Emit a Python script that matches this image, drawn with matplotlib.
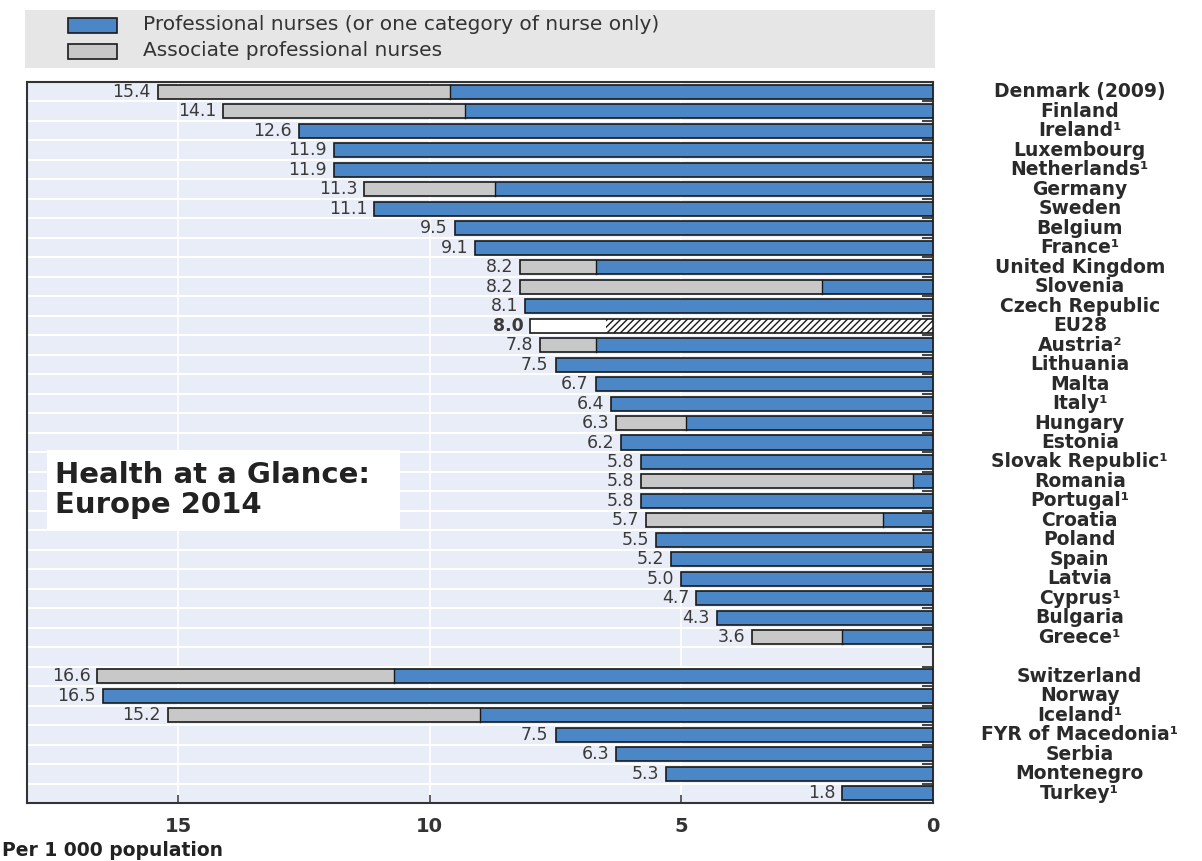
import matplotlib
matplotlib.use("Agg")
import matplotlib.pyplot as plt
from matplotlib.patches import Rectangle
from matplotlib.transforms import blended_transform_factory

plt.rcParams['font.family'] = ['DejaVu Sans']

countries = ["Denmark (2009)", "Finland", "Ireland¹", "Luxembourg", "Netherlands¹",
             "Germany", "Sweden", "Belgium", "France¹", "United Kingdom", "Slovenia",
             "Czech Republic", "EU28", "Austria²", "Lithuania", "Malta", "Italy¹",
             "Hungary", "Estonia", "Slovak Republic¹", "Romania", "Portugal¹", "Croatia",
             "Poland", "Spain", "Latvia", "Cyprus¹", "Bulgaria", "Greece¹"]
totals = [15.4, 14.1, 12.6, 11.9, 11.9, 11.3, 11.1, 9.5, 9.1, 8.2, 8.2, 8.1, 8.0, 7.8,
          7.5, 6.7, 6.4, 6.3, 6.2, 5.8, 5.8, 5.8, 5.7, 5.5, 5.2, 5.0, 4.7, 4.3, 3.6]
professional = [9.6, 9.3, 12.6, 11.9, 11.9, 8.7, 11.1, 9.5, 9.1, 6.7, 2.2, 8.1, 6.5, 6.7,
                7.5, 6.7, 6.4, 4.9, 6.2, 5.8, 0.4, 5.8, 1.0, 5.5, 5.2, 5.0, 4.7, 4.3, 1.8]

other_countries = ["Switzerland", "Norway", "Iceland¹", "FYR of Macedonia¹", "Serbia",
                   "Montenegro", "Turkey¹"]
other_totals = [16.6, 16.5, 15.2, 7.5, 6.3, 5.3, 1.8]
other_professional = [10.7, 16.5, 9.0, 7.5, 6.3, 5.3, 1.8]

x_ticks = [15, 10, 5, 0]

BLUE = "#4B86C6"
GREY = "#C8C8C8"
BG = "#E9EDF7"
EDGE = "#1a1a1a"

fig = plt.figure(figsize=(12.02, 8.61), dpi=100)
ax = fig.add_axes([27/1202, 1-803/861, (933-27)/1202, (803-82)/861])
ax.set_facecolor(BG)

names = countries + other_countries
tots = totals + other_totals
pros = professional + other_professional
pos = list(range(len(countries))) + [len(countries) + 1 + i for i in range(len(other_countries))]
n_rows = len(countries) + 1 + len(other_countries)

bh = 0.72
for name, t, p, y in zip(names, tots, pros, pos):
    if name == "EU28":
        ax.barh(y, p, height=bh, color="white", edgecolor=EDGE, hatch="/////", linewidth=0, zorder=3)
        ax.barh(y, t - p, left=p, height=bh, color="white", linewidth=0, zorder=3)
        ax.barh(y, t, height=bh, fill=False, edgecolor=EDGE, linewidth=1.2, zorder=4)
    else:
        ax.barh(y, p, height=bh, color=BLUE, linewidth=0, zorder=3)
        if t - p > 0.05:
            ax.barh(y, t - p, left=p, height=bh, color=GREY, linewidth=0, zorder=3)
        ax.barh(y, t, height=bh, fill=False, edgecolor=EDGE, linewidth=1.2, zorder=4)
        if t - p > 0.05:
            ax.plot([p, p], [y - bh/2, y + bh/2], color=EDGE, lw=1.0, zorder=5)
    ax.annotate(f"{t:.1f}", (t, y), xytext=(-5, 0), textcoords="offset points",
                ha="right", va="center", fontsize=12.5, color="#3a3a3a",
                fontweight="bold" if name == "EU28" else "normal")

trans = blended_transform_factory(ax.transAxes, ax.transData)
for name, y in zip(names, pos):
    ax.text(1.162, y, name, transform=trans, ha="center", va="center",
            fontsize=13.5, fontweight="bold", color="#2a2a2a", clip_on=False)

ax.set_xlim(18.0, 0)
ax.set_ylim(n_rows - 0.5, -0.5)

# grid
for v in [5, 10, 15]:
    ax.axvline(v, color="white", lw=1.2, zorder=1)
for i in range(n_rows - 1):
    ax.axhline(i + 0.5, color="white", lw=1.5, zorder=1)

ax.set_xticks(x_ticks)
ax.set_xticklabels([str(v) for v in x_ticks], fontsize=14, color="#333333", fontweight="bold")
ax.tick_params(axis="x", direction="in", length=6, width=1.2, pad=10, color="#444444")
ax.set_yticks([i + 0.5 for i in range(n_rows - 1)])
ax.set_yticklabels([])
ax.tick_params(axis="y", left=False, right=True, direction="in", length=8, width=1.2, color="#222222")
for s in ax.spines.values():
    s.set_color("#333333")
    s.set_linewidth(1.5)

# Health at a Glance box
fig.patches.append(Rectangle((47/1202, 1-530/861), 353/1202, 80/861, transform=fig.transFigure,
                             facecolor="white", edgecolor="none", zorder=5))
fig.text(55/1202, 1-490/861, "Health at a Glance:\nEurope 2014",
         ha="left", va="center", fontsize=21, fontweight="bold", color="#222222",
         linespacing=1.1, zorder=6)

# legend panel
fig.patches.append(Rectangle((25/1202, 1-68/861), 910/1202, 58/861, transform=fig.transFigure,
                             facecolor="#E6E6E6", edgecolor="none", zorder=0))
fig.patches.append(Rectangle((68/1202, 1-33/861), 49/1202, 15/861, transform=fig.transFigure,
                             facecolor=BLUE, edgecolor=EDGE, lw=1.2, zorder=1))
fig.patches.append(Rectangle((68/1202, 1-59/861), 49/1202, 15/861, transform=fig.transFigure,
                             facecolor=GREY, edgecolor=EDGE, lw=1.2, zorder=1))
fig.text(143/1202, 1-25/861, "Professional nurses (or one category of nurse only)",
         ha="left", va="center", fontsize=14.5, color="#333333")
fig.text(143/1202, 1-51/861, "Associate professional nurses",
         ha="left", va="center", fontsize=14.5, color="#333333")

fig.text(2/1202, 1-851/861, "Per 1 000 population", ha="left", va="center",
         fontsize=13.5, fontweight="bold", color="#222222")

fig.savefig("out.png", dpi=100)
